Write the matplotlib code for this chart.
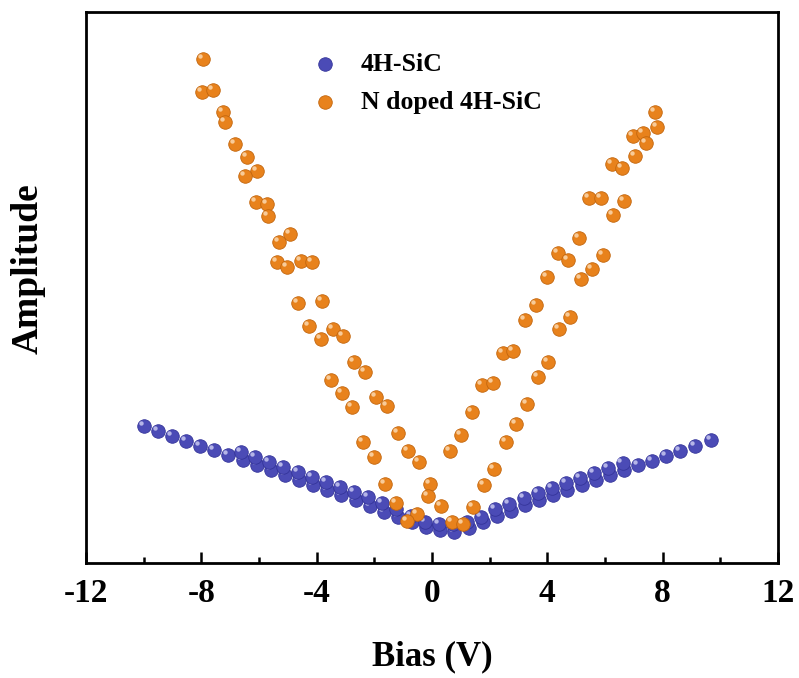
import numpy as np
import matplotlib.pyplot as plt
import matplotlib.transforms as mtransforms

plt.rcParams['font.family'] = ['Liberation Serif', 'DejaVu Serif']
plt.rcParams['font.weight'] = 'bold'

# 4H-SiC, two sweeps (arbitrary amplitude units)
sic_bias_a = [-10.00, -9.51, -9.02, -8.53, -8.04, -7.55, -7.06, -6.57, -6.08, -5.59,
              -5.10, -4.61, -4.12, -3.63, -3.14, -2.65, -2.16, -1.67, -1.18, -0.69,
              -0.20, 0.29, 0.78, 1.27, 1.76, 2.25, 2.74, 3.23, 3.72, 4.21,
              4.70, 5.19, 5.68, 6.17, 6.66, 7.15, 7.64, 8.13, 8.62, 9.11, 9.68]
sic_amp_a = [137, 132, 127, 122, 117, 113, 108, 103, 98, 93,
             88, 83, 78, 73, 68, 63, 57, 51, 46, 41,
             36, 33, 31, 35, 41, 47, 52, 58, 63, 68,
             73, 78, 83, 88, 93, 98, 102, 107, 112, 117, 123]
sic_bias_b = [-6.62, -6.13, -5.64, -5.15, -4.66, -4.17, -3.68, -3.19, -2.70, -2.21,
              -1.72, -1.23, -0.74, -0.25, 0.24, 0.73, 1.22, 1.71, 2.20, 2.69,
              3.18, 3.67, 4.16, 4.65, 5.14, 5.63, 6.12, 6.61]
sic_amp_b = [111, 106, 101, 96, 91, 86, 81, 76, 71, 66,
             60, 54, 47, 41, 39, 39, 41, 46, 54, 59,
             65, 70, 75, 80, 85, 90, 95, 100]

# N doped 4H-SiC
n_bias = [-7.95, -7.99, -7.60, -7.26, -7.19, -6.84, -6.42, -6.08, -6.49, -6.11,
          -5.73, -5.69, -4.93, -5.31, -5.38, -5.03, -4.55, -4.17, -4.65, -3.82,
          -4.27, -3.85, -3.44, -3.09, -2.71, -2.33, -3.51, -3.13, -2.78, -1.94,
          -1.56, -1.18, -2.40, -2.01, -0.83, -0.45, -1.63, -0.07, -1.25, -0.52,
          -0.87, -0.14, 0.31, 0.63, 1.01, 1.39, 1.74, 2.12, 0.69, 1.08,
          1.42, 1.81, 2.15, 2.57, 2.92, 3.30, 3.68, 4.03, 2.47, 2.81,
          3.23, 3.61, 3.99, 4.38, 4.72, 5.10, 4.41, 4.79, 5.17, 5.56,
          5.94, 5.45, 5.87, 6.28, 6.67, 6.25, 6.60, 7.05, 6.98, 7.33,
          7.43, 7.74, 7.81]
n_amp = [504, 471, 473, 451, 441, 419, 406, 392, 387, 361,
         359, 347, 329, 321, 301, 296, 302, 301, 260, 262,
         237, 224, 234, 227, 201, 191, 183, 170, 156, 166,
         157, 130, 121, 106, 112, 101, 79, 79, 60, 49,
         42, 67, 57, 112, 128, 151, 178, 180, 41, 39,
         56, 78, 94, 121, 139, 159, 186, 201, 210, 212,
         243, 258, 286, 310, 303, 325, 234, 246, 284, 294,
         308, 365, 365, 348, 362, 399, 395, 407, 427, 430,
         420, 451, 436]

blue = '#4b4bb6'
blue_edge = '#34349a'
orange = '#e8821c'
orange_edge = '#c2650c'

fig = plt.figure(figsize=(7.99, 6.78), dpi=100)
ax = fig.add_axes([0.1076, 0.1696, 0.866, 0.8127])

hl = ax.transData + mtransforms.ScaledTranslation(-2.2 / 72, 2.2 / 72, fig.dpi_scale_trans)

s_main = 95
s_hl = 10
for bx, by in [(sic_bias_a, sic_amp_a), (sic_bias_b, sic_amp_b)]:
    ax.scatter(bx, by, s=s_main, color=blue, edgecolor=blue_edge, linewidth=0.6, zorder=3)
    ax.scatter(bx, by, s=s_hl, color='#c8c8f0', linewidth=0, alpha=0.85,
               transform=hl, zorder=3)
ax.scatter(n_bias, n_amp, s=s_main, color=orange, edgecolor=orange_edge, linewidth=0.6, zorder=4)
ax.scatter(n_bias, n_amp, s=s_hl, color='#fbd9b0', linewidth=0, alpha=0.85,
           transform=hl, zorder=4)

ax.set_xlim(-12, 12)
ax.set_ylim(0, 551)
ax.set_xticks(np.arange(-12, 13, 4))
ax.set_xticks(np.arange(-10, 12, 4), minor=True)
ax.set_xticklabels(['-12', '-8', '-4', '0', '4', '8', '12'])
ax.set_yticks([])
ax.tick_params(axis='x', which='major', direction='in', length=8, width=1.8,
               labelsize=24, pad=11, top=False)
ax.tick_params(axis='x', which='minor', direction='in', length=4, width=1.8, top=False)
for sp in ax.spines.values():
    sp.set_linewidth(2)

ax.set_xlabel('Bias (V)', fontsize=25, fontweight='bold', labelpad=22)
ax.set_ylabel('Amplitude', fontsize=27, fontweight='bold')
ax.yaxis.set_label_coords(-0.059, 0.535)

# legend
h1 = ax.scatter([], [], s=s_main, color=blue, edgecolor=blue_edge, linewidth=0.6)
h2 = ax.scatter([], [], s=s_main, color=orange, edgecolor=orange_edge, linewidth=0.6)
ax.legend([h1, h2], ['4H-SiC', 'N doped 4H-SiC'], loc='upper left',
          bbox_to_anchor=(0.275, 0.968), frameon=False,
          handletextpad=0.4, labelspacing=0.6, prop={'weight': 'bold', 'size': 18.5})

fig.savefig('out.png', dpi=100)
